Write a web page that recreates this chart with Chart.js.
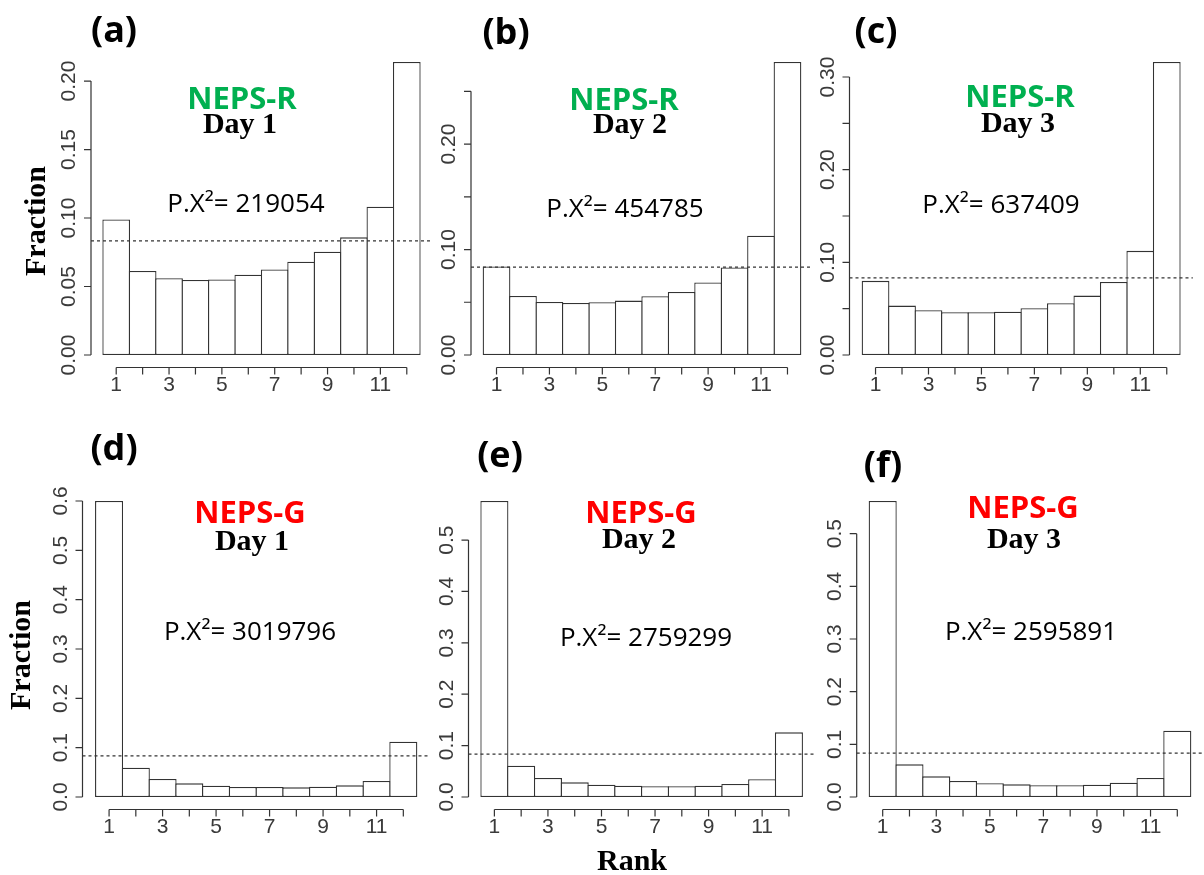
<!DOCTYPE html>
<html>
<head>
<meta charset="utf-8">
<script src="https://cdn.jsdelivr.net/npm/chart.js@4.4.0/dist/chart.umd.min.js"></script>
<style>
  html, body { margin: 0; padding: 0; background: #fff; }
  #page { position: relative; width: 1204px; height: 875px; overflow: hidden; }
  #page canvas { position: absolute; left: 0; top: 0; }
</style>
</head>
<body>
<div id="page"></div>
<script>
// rank histogram data
const ranks = ['1', '2', '3', '4', '5', '6', '7', '8', '9', '10', '11', '12'];
const rankTickLabels = ['1', '', '3', '', '5', '', '7', '', '9', '', '11', ''];

const fracA = [0.099, 0.0613, 0.056, 0.0547, 0.0552, 0.0586, 0.0625, 0.0681, 0.0754, 0.0859, 0.1083, 0.2139];
const fracB = [0.0839, 0.056, 0.0503, 0.0494, 0.050, 0.0516, 0.0557, 0.0598, 0.0687, 0.0829, 0.113, 0.2778];
const fracC = [0.080, 0.0533, 0.0483, 0.0461, 0.0461, 0.0468, 0.0504, 0.0558, 0.0641, 0.0789, 0.1124, 0.3162];
const fracD = [0.600, 0.0595, 0.0365, 0.0277, 0.023, 0.0203, 0.0203, 0.0196, 0.021, 0.0236, 0.0324, 0.1122];
const fracE = [0.576, 0.061, 0.037, 0.0285, 0.024, 0.022, 0.0208, 0.0208, 0.022, 0.0253, 0.0344, 0.1258];
const fracF = [0.562, 0.062, 0.0392, 0.0304, 0.026, 0.024, 0.0222, 0.0222, 0.0234, 0.0272, 0.036, 0.126];

const ticksA = [0, 0.05, 0.10, 0.15, 0.20];
const tickLabelsA = ['0.00', '0.05', '0.10', '0.15', '0.20'];
const ticksB = [0, 0.05, 0.10, 0.15, 0.20, 0.25];
const tickLabelsB = ['0.00', '', '0.10', '', '0.20', ''];
const ticksC = [0, 0.05, 0.10, 0.15, 0.20, 0.25, 0.30];
const tickLabelsC = ['0.00', '', '0.10', '', '0.20', '', '0.30'];
const ticksD = [0, 0.1, 0.2, 0.3, 0.4, 0.5, 0.6];
const tickLabelsD = ['0.0', '0.1', '0.2', '0.3', '0.4', '0.5', '0.6'];
const ticksEF = [0, 0.1, 0.2, 0.3, 0.4, 0.5];
const tickLabelsEF = ['0.0', '0.1', '0.2', '0.3', '0.4', '0.5'];

const expectedFrac = 1 / 12;

const panelLetters = ['(a)', '(b)', '(c)', '(d)', '(e)', '(f)'];
const models = ['NEPS-R', 'NEPS-R', 'NEPS-R', 'NEPS-G', 'NEPS-G', 'NEPS-G'];
const days = ['Day 1', 'Day 2', 'Day 3', 'Day 1', 'Day 2', 'Day 3'];
const chiSq = ['219054', '454785', '637409', '3019796', '2759299', '2595891'];

// page layout (pixels) for each panel
const W = 1204, H = 875;
const layouts = [
  { left: 103,   right: 420,   top: 62,  bottom: 355, axisX: 91,    letter: [114, 42],  model: [242, 109], day: [240, 133], chi: [246, 212] },
  { left: 483.3, right: 800.7, top: 62,  bottom: 355, axisX: 471,   letter: [506, 44],  model: [624, 110], day: [630, 133], chi: [625, 217] },
  { left: 862.3, right: 1180,  top: 62,  bottom: 355, axisX: 849.5, letter: [876, 43],  model: [1020, 107], day: [1018, 132], chi: [1001, 213] },
  { left: 95.7,  right: 416.7, top: 501, bottom: 797, axisX: 82.5,  letter: [114, 460], model: [250, 523], day: [252, 550], chi: [250, 640] },
  { left: 481,   right: 802.3, top: 501, bottom: 797, axisX: 468.5, letter: [500, 467], model: [641, 523], day: [639, 548], chi: [646, 646] },
  { left: 869.3, right: 1190.7, top: 501, bottom: 797, axisX: 856.7, letter: [883, 477], model: [1023, 518], day: [1024, 548], chi: [1031, 640] }
];
const GREEN = '#00b050', RED = '#ff0000';
const INK = '#333333';

// R-style detached axes, reference line and annotations
const rPanel = {
  id: 'rPanel',
  afterDraw(chart, args, o) {
    const ctx = chart.ctx;
    const xs = chart.scales.x, ys = chart.scales.y, area = chart.chartArea;
    ctx.save();
    ctx.strokeStyle = INK;
    ctx.lineWidth = 1.2;

    // expected frequency line
    const yRef = ys.getPixelForValue(expectedFrac);
    ctx.setLineDash([3, 3]);
    ctx.beginPath();
    ctx.moveTo(o.axisX, yRef);
    ctx.lineTo(area.right + (area.left - o.axisX), yRef);
    ctx.stroke();
    ctx.setLineDash([]);

    // y axis
    const y0 = ys.getPixelForValue(o.yTicks[0]);
    const y1 = ys.getPixelForValue(o.yTicks[o.yTicks.length - 1]);
    ctx.beginPath();
    ctx.moveTo(o.axisX, y0);
    ctx.lineTo(o.axisX, y1);
    o.yTicks.forEach(v => {
      const p = ys.getPixelForValue(v);
      ctx.moveTo(o.axisX, p);
      ctx.lineTo(o.axisX - 7, p);
    });
    ctx.stroke();
    ctx.fillStyle = '#3a3a3a';
    ctx.font = '21px "Liberation Sans", Arial, sans-serif';
    ctx.textAlign = 'center';
    ctx.textBaseline = 'middle';
    o.yTicks.forEach((v, i) => {
      if (!o.yLabels[i]) return;
      ctx.save();
      ctx.translate(o.axisX - 21.5, ys.getPixelForValue(v));
      ctx.rotate(-Math.PI / 2);
      ctx.fillText(o.yLabels[i], 0, 0);
      ctx.restore();
    });

    // x axis
    const ax = area.bottom + 12.5;
    const xa = xs.getPixelForValue(0), xb = xs.getPixelForValue(ranks.length - 1);
    ctx.beginPath();
    ctx.moveTo(xa, ax);
    ctx.lineTo(xb, ax);
    ranks.forEach((r, i) => {
      const p = xs.getPixelForValue(i);
      ctx.moveTo(p, ax);
      ctx.lineTo(p, ax + 7);
    });
    ctx.stroke();
    ctx.textBaseline = 'alphabetic';
    rankTickLabels.forEach((t, i) => {
      if (t) ctx.fillText(t, xs.getPixelForValue(i), ax + 23);
    });

    // annotations
    ctx.fillStyle = '#000';
    ctx.font = 'bold 36px "Open Sans", sans-serif';
    ctx.fillText(o.letter, o.letterPos[0], o.letterPos[1]);
    ctx.fillStyle = o.modelColor;
    ctx.font = 'bold 31px "Open Sans", sans-serif';
    ctx.fillText(o.model, o.modelPos[0], o.modelPos[1]);
    ctx.fillStyle = '#000';
    ctx.font = 'bold 30px "Liberation Serif", "Times New Roman", serif';
    ctx.fillText(o.day, o.dayPos[0], o.dayPos[1]);
    ctx.font = '26px "Open Sans", sans-serif';
    ctx.fillText('P.X\u00b2= ' + o.chi, o.chiPos[0], o.chiPos[1]);

    ctx.font = 'bold 30px "Liberation Serif", "Times New Roman", serif';
    if (o.yTitle) {
      ctx.save();
      ctx.translate(o.yTitle[0], o.yTitle[1]);
      ctx.rotate(-Math.PI / 2);
      ctx.textBaseline = 'middle';
      ctx.fillText('Fraction', 0, 0);
      ctx.restore();
    }
    if (o.xTitle) ctx.fillText('Rank', o.xTitle[0], o.xTitle[1]);
    ctx.restore();
  }
};

const page = document.getElementById('page');
const series = [fracA, fracB, fracC, fracD, fracE, fracF];
const yTicks = [ticksA, ticksB, ticksC, ticksD, ticksEF, ticksEF];
const yLabels = [tickLabelsA, tickLabelsB, tickLabelsC, tickLabelsD, tickLabelsEF, tickLabelsEF];
const yTitles = [[37, 221], null, null, [22, 655], null, null];
const xTitles = [null, null, null, null, [632, 870], null];
const BW = 1.3;

series.forEach((vals, k) => {
  const L = layouts[k];
  const canvas = document.createElement('canvas');
  canvas.width = W;
  canvas.height = H;
  canvas.style.width = W + 'px';
  canvas.style.height = H + 'px';
  page.appendChild(canvas);
  const catW = (L.right - L.left) / ranks.length;

  new Chart(canvas.getContext('2d'), {
    type: 'bar',
    data: {
      labels: ranks,
      datasets: [{
        data: vals,
        backgroundColor: '#ffffff',
        borderColor: INK,
        borderWidth: BW,
        borderSkipped: false,
        inflateAmount: 0,
        categoryPercentage: 1,
        barPercentage: 1 + BW / catW,
        clip: false
      }]
    },
    options: {
      responsive: false,
      animation: false,
      events: [],
      layout: { padding: { left: L.left, right: W - L.right, top: L.top, bottom: H - L.bottom } },
      scales: {
        x: { display: false, offset: true },
        y: { display: false, min: 0, max: Math.max(...vals) }
      },
      plugins: {
        legend: { display: false },
        tooltip: { enabled: false },
        rPanel: {
          axisX: L.axisX,
          yTicks: yTicks[k],
          yLabels: yLabels[k],
          letter: panelLetters[k], letterPos: L.letter,
          model: models[k], modelPos: L.model, modelColor: k < 3 ? GREEN : RED,
          day: days[k], dayPos: L.day,
          chi: chiSq[k], chiPos: L.chi,
          yTitle: yTitles[k], xTitle: xTitles[k]
        }
      }
    },
    plugins: [rPanel]
  });
});
</script>
</body>
</html>
